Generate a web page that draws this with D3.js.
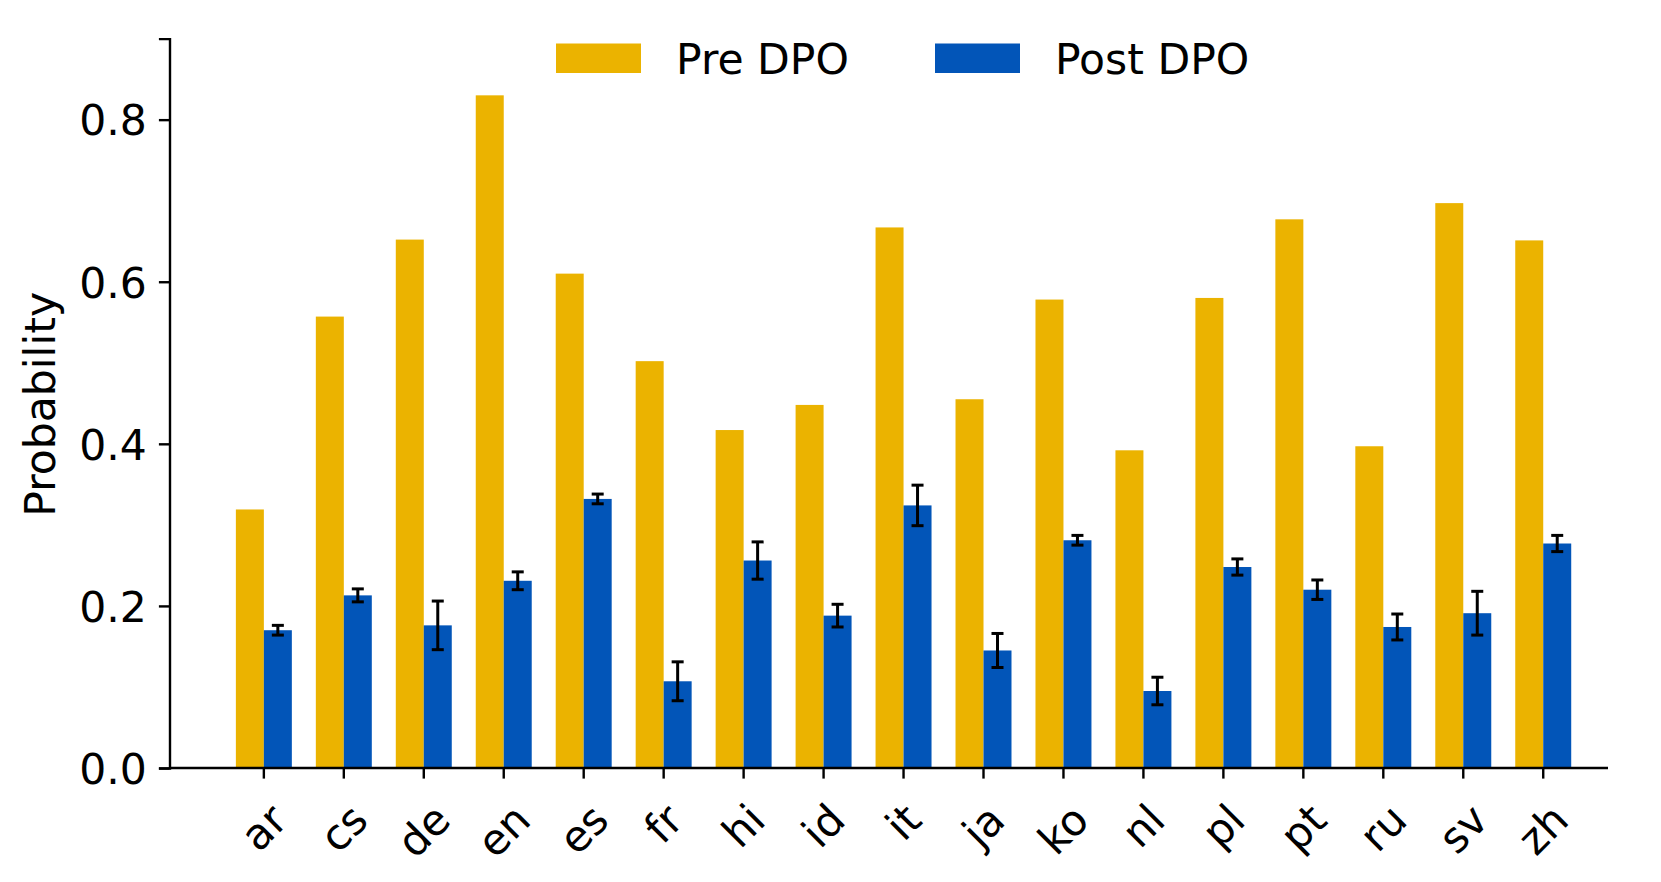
<!DOCTYPE html>
<html>
<head>
<meta charset="utf-8">
<script src="https://cdn.jsdelivr.net/npm/d3@7"></script>
<style>
  body { margin: 0; background: white; }
  svg text { font-family: "DejaVu Sans", sans-serif; }
</style>
</head>
<body>
<svg id="chart" width="1661" height="882"></svg>
<script>
// donnees
const langs = ["ar","cs","de","en","es","fr","hi","id","it","ja","ko","nl","pl","pt","ru","sv","zh"];
const preDPO = [0.319,0.557,0.652,0.830,0.610,0.502,0.417,0.448,0.667,0.455,0.578,0.392,0.580,0.677,0.397,0.697,0.651];
const postDPO = [0.170,0.213,0.176,0.231,0.332,0.107,0.256,0.188,0.324,0.145,0.281,0.095,0.248,0.220,0.174,0.191,0.277];
const postErr = [0.006,0.008,0.030,0.011,0.006,0.024,0.023,0.014,0.025,0.021,0.006,0.017,0.010,0.012,0.016,0.027,0.010];
const yTicks = [0.0,0.2,0.4,0.6,0.8];
const seriesNames = ["Pre DPO","Post DPO"];
const colors = ["#EBB300","#0255B8"];

const svg = d3.select("#chart");
const mLeft = 169.5, mRight = 1608, mTop = 38.6, mBottom = 768;
const fontSize = 42.5;
const barW = 0.35;

// echelle x continue pour garder le meme xlim que matplotlib
const x = d3.scaleLinear().domain([-1.18, 16.81]).range([mLeft, mRight]);
const y = d3.scaleLinear().domain([0, 0.9]).range([mBottom, mTop]);
const unit = x(1) - x(0);

// barres Pre DPO
svg.append("g").selectAll("rect").data(preDPO).enter().append("rect")
  .attr("x", (d,i) => x(i - barW))
  .attr("y", d => y(d))
  .attr("width", barW * unit)
  .attr("height", d => y(0) - y(d))
  .attr("fill", colors[0]);

// barres Post DPO
svg.append("g").selectAll("rect").data(postDPO).enter().append("rect")
  .attr("x", (d,i) => x(i))
  .attr("y", d => y(d))
  .attr("width", barW * unit)
  .attr("height", d => y(0) - y(d))
  .attr("fill", colors[1]);

// barres d'erreur
const errG = svg.append("g").attr("stroke", "black").attr("stroke-width", 3);
postDPO.forEach((v,i) => {
  const cx = x(i + barW/2);
  const lo = y(v - postErr[i]), hi = y(v + postErr[i]);
  errG.append("line").attr("x1", cx).attr("x2", cx).attr("y1", lo).attr("y2", hi);
  errG.append("line").attr("x1", cx-6).attr("x2", cx+6).attr("y1", lo).attr("y2", lo);
  errG.append("line").attr("x1", cx-6).attr("x2", cx+6).attr("y1", hi).attr("y2", hi);
});

// axe y
const yAxis = svg.append("g")
  .attr("transform", `translate(${mLeft},0)`)
  .call(d3.axisLeft(y).tickValues(yTicks).tickFormat(d3.format(".1f")).tickSizeOuter(0).tickSize(10.6).tickPadding(12));
yAxis.select(".domain").attr("stroke-width", 2.4);
yAxis.selectAll(".tick line").attr("stroke-width", 2.4);
yAxis.selectAll("text").attr("font-size", fontSize).attr("fill", "black")
  .attr("font-family", "DejaVu Sans").attr("dy", "0.36em");

// axe x
svg.append("line")
  .attr("x1", mLeft).attr("x2", mRight).attr("y1", mBottom).attr("y2", mBottom)
  .attr("stroke", "black").attr("stroke-width", 2.4);
const xg = svg.append("g");
langs.forEach((l,i) => {
  xg.append("line").attr("x1", x(i)).attr("x2", x(i)).attr("y1", mBottom).attr("y2", mBottom + 10.6)
    .attr("stroke", "black").attr("stroke-width", 2.4);
  const t = xg.append("text").text(l).attr("font-size", fontSize)
    .attr("text-anchor", "middle").attr("dominant-baseline", "central");
  const bb = t.node().getBBox();
  const h = fontSize * 0.95;
  const cy = mBottom + 30 + (bb.width + h) / (2 * Math.SQRT2);
  t.attr("transform", `translate(${x(i)},${cy}) rotate(-45)`);
});

// titre de l'axe y
svg.append("text")
  .attr("transform", `translate(55,${(y(0)+y(0.9))/2 + 1}) rotate(-90)`)
  .attr("text-anchor", "middle")
  .attr("font-size", fontSize)
  .text("Probability");

// legende
const legX = [556, 935];
seriesNames.forEach((n,i) => {
  svg.append("rect").attr("x", legX[i]).attr("y", 43.5).attr("width", 85).attr("height", 29.5)
    .attr("fill", colors[i]);
  svg.append("text").attr("x", legX[i] + 120).attr("y", 73.5)
    .attr("font-size", fontSize).text(n);
});
</script>
</body>
</html>
